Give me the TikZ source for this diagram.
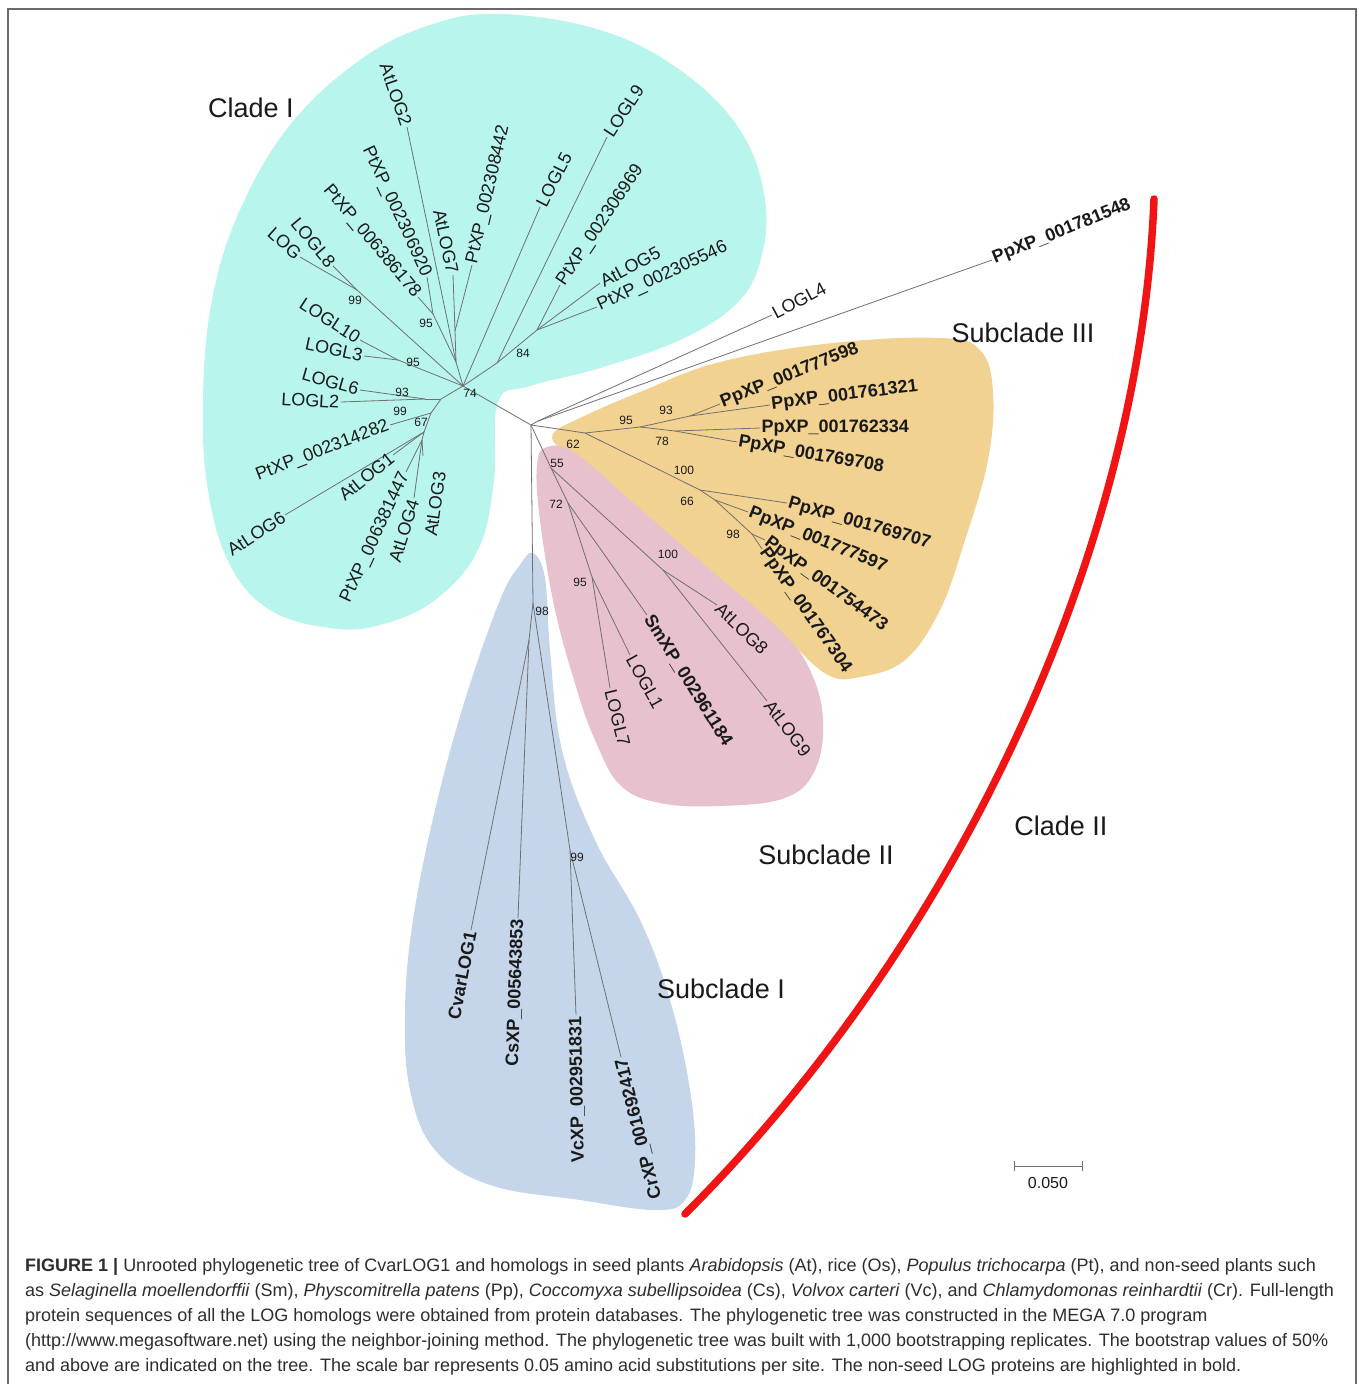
\documentclass[tikz,border=0pt]{standalone}
\usepackage{fontspec}
\setmainfont{Liberation Sans}
\definecolor{cyanf}{HTML}{B8F5EC}
\definecolor{orangef}{HTML}{F2D291}
\definecolor{pinkf}{HTML}{E8C1CE}
\definecolor{bluef}{HTML}{C5D6EB}
\definecolor{redc}{HTML}{F01414}
\definecolor{treec}{HTML}{707070}
\definecolor{txt}{HTML}{1A1A1A}
\definecolor{capc}{HTML}{2E2E2E}
\definecolor{framec}{HTML}{6A6A6A}
\begin{document}
\begin{tikzpicture}[x=1pt,y=-1pt,
  br/.style={draw=treec, line width=0.8pt},
  lab/.style={font=\fontsize{18}{20}\selectfont, text=txt, inner sep=1.5pt},
  blab/.style={lab, font=\fontsize{18}{20}\selectfont\bfseries},
  bs/.style={font=\fontsize{12}{13}\selectfont, text=txt, inner sep=0pt},
  cl/.style={font=\fontsize{27}{30}\selectfont, text=txt, inner sep=0pt},
  captext/.style={font=\fontsize{18}{20}\selectfont, text=capc, anchor=west, inner sep=0pt}]
\useasboundingbox (0,0) rectangle (1358,1384);
\fill[white] (0,0) rectangle (1358,1384);
% frame
\draw[framec, line width=2pt] (8,1384) -- (8,9) -- (1356,9) -- (1356,1384);

% blobs
\fill[cyanf] plot[smooth cycle, tension=0.65] coordinates {
 (500,14) (600,30) (680,70) (740,130) (765,200) (760,262) (735,305) (680,340)
 (600,368) (530,386) (498,402) (494,480) (478,550) (435,600) (380,625) (330,628)
 (270,610) (230,565) (208,490) (203,400) (212,300) (240,210) (290,125) (360,60) (430,25)};
\fill[orangef] plot[smooth cycle, tension=0.65] coordinates {
 (553,434) (580,418) (640,392) (720,362) (833,343) (940,338) (980,350) (993,392)
 (988,460) (965,540) (940,610) (905,660) (860,677) (828,675) (790,642) (730,587)
 (667,537) (600,477) (562,450)};
\fill[pinkf] plot[smooth cycle, tension=0.65] coordinates {
 (547,447) (575,453) (630,500) (707,567) (780,630) (810,670) (823,720) (815,770)
 (785,798) (720,806) (660,803) (620,785) (595,740) (577,690) (555,610) (540,520) (537,465)};
\fill[bluef] plot[smooth cycle, tension=0.65] coordinates {
 (533,553) (545,578) (550,650) (562,750) (595,840) (640,920) (670,1000) (690,1090)
 (695,1160) (685,1200) (655,1210) (580,1200) (490,1185) (435,1150) (410,1090)
 (405,1010) (413,920) (435,810) (465,700) (500,600) (520,565)};

% red arc
\coordinate (ra) at (1154,199);
\coordinate (rb) at (685,1214);
\draw[redc, line width=7.5pt, line cap=round] (ra) .. controls (1140,560) and (950,950) .. (rb);

% internal nodes
\coordinate (R) at (531,425);
\coordinate (N74) at (463,386);
\coordinate (Nup1) at (456,362);
\coordinate (Nup2) at (455,331);
\coordinate (N95a) at (433,314);
\coordinate (N99a) at (357,290);
\coordinate (N95b) at (398,360);
\coordinate (N84) at (497,363);
\coordinate (N84b) at (537,330);
\coordinate (Nl1) at (441,399);
\coordinate (N93) at (425,399);
\coordinate (Nl2) at (431,413);
\coordinate (N67) at (424,432);
\coordinate (N67b) at (422,440);
\coordinate (Na) at (538,421);
\coordinate (N62) at (585,433);
\coordinate (N95o) at (640,427);
\coordinate (N93o) at (690,416);
\coordinate (N78) at (675,431);
\coordinate (N100o) at (700,490);
\coordinate (N66) at (715,500);
\coordinate (N98o) at (752,534);
\coordinate (N55) at (551,468);
\coordinate (N100p) at (663,570);
\coordinate (N72) at (568,503);
\coordinate (N95p) at (592,577);
\coordinate (N98b) at (533,603);
\coordinate (Nb1) at (529,640);
\coordinate (N99b) at (570,850);

% leaves
\coordinate (lAtLOG2) at (407,127);
\coordinate (lPt920) at (427,277);
\coordinate (lPt178) at (418,297);
\coordinate (lLOGL8) at (333,266);
\coordinate (lLOG) at (300,257);
\coordinate (lAtLOG7) at (453,275);
\coordinate (lPt442) at (472,265);
\coordinate (lLOGL5) at (540,207);
\coordinate (lLOGL9) at (607,137);
\coordinate (lPt969) at (560,285);
\coordinate (lAtLOG5) at (600,283);
\coordinate (lPt546) at (597,307);
\coordinate (lLOGL10) at (360,340);
\coordinate (lLOGL3) at (364,356);
\coordinate (lLOGL6) at (360,390);
\coordinate (lLOGL2) at (341,402);
\coordinate (lPt282) at (390,425);
\coordinate (lAtLOG6) at (285,515);
\coordinate (lAtLOG1) at (393,455);
\coordinate (lPt447) at (406,472);
\coordinate (lAtLOG4) at (414,498);
\coordinate (lAtLOG3) at (423,456);
\coordinate (lLOGL4) at (772,315);
\coordinate (lPp548) at (992,260);
\coordinate (lPp598) at (720,404);
\coordinate (lPp321) at (770,405);
\coordinate (lPp334) at (760,428);
\coordinate (lPp708) at (737,442);
\coordinate (lPp707) at (787,503);
\coordinate (lPp597) at (748,512);
\coordinate (lPp473) at (765,540);
\coordinate (lPp304) at (762,549);
\coordinate (lAtLOG8) at (717,605);
\coordinate (lAtLOG9) at (767,701);
\coordinate (lSm) at (647,615);
\coordinate (lLOGL1) at (630,655);
\coordinate (lLOGL7) at (610,688);
\coordinate (lCvar) at (471,930);
\coordinate (lCs) at (518,918);
\coordinate (lVc) at (576,1015);
\coordinate (lCr) at (621,1057);

% branches
\foreach \a/\b in {R/N74, N74/Nup1, Nup1/lAtLOG2, Nup1/Nup2, Nup2/lAtLOG7, Nup2/lPt442,
  Nup1/N95a, N95a/lPt920, N95a/lPt178, N74/N99a, N99a/lLOGL8, N99a/lLOG,
  N74/N95b, N95b/lLOGL10, N95b/lLOGL3, N74/lLOGL5, N74/N84, N84/lLOGL9, N84/N84b,
  N84b/lPt969, N84b/lAtLOG5, N84b/lPt546, N74/Nl1, Nl1/N93, N93/lLOGL6, N93/lLOGL2,
  Nl1/Nl2, Nl2/lPt282, Nl2/N67, N67/lAtLOG6, N67/lAtLOG1, N67/N67b, N67b/lPt447,
  N67b/lAtLOG4, N67b/lAtLOG3,
  R/Na, Na/lLOGL4, Na/lPp548, R/N62, N62/N95o, N95o/N93o, N93o/lPp598, N93o/lPp321,
  N95o/N78, N78/lPp334, N78/lPp708, N62/N100o, N100o/lPp707, N100o/N66, N66/lPp597,
  N66/N98o, N98o/lPp473, N98o/lPp304,
  R/N55, N55/N100p, N100p/lAtLOG8, N100p/lAtLOG9, N55/N72, N72/lSm, N72/N95p,
  N95p/lLOGL1, N95p/lLOGL7,
  R/N98b, N98b/Nb1, Nb1/lCvar, Nb1/lCs, N98b/N99b, N99b/lVc, N99b/lCr}
  \draw[br] (\a) -- (\b);

% labels: clade I
\node[lab, anchor=east, rotate=-71] (tAtLOG2) at (lAtLOG2) {AtLOG2};
\node[lab, anchor=east, rotate=-65] (tPt920) at (lPt920) {PtXP\_002306920};
\node[lab, anchor=east, rotate=-50] (tPt178) at (lPt178) {PtXP\_006386178};
\node[lab, anchor=east, rotate=-50] (tLOGL8) at (lLOGL8) {LOGL8};
\node[lab, anchor=east, rotate=-42] (tLOG) at (lLOG) {LOG};
\node[lab, anchor=east, rotate=-78] (tAtLOG7) at (lAtLOG7) {AtLOG7};
\node[lab, anchor=west, rotate=77] (tPt442) at (lPt442) {PtXP\_002308442};
\node[lab, anchor=west, rotate=63] (tLOGL5) at (lLOGL5) {LOGL5};
\node[lab, anchor=west, rotate=57] (tLOGL9) at (lLOGL9) {LOGL9};
\node[lab, anchor=west, rotate=56] (tPt969) at (lPt969) {PtXP\_002306969};
\node[lab, anchor=west, rotate=28] (tAtLOG5) at (lAtLOG5) {AtLOG5};
\node[lab, anchor=west, rotate=25] (tPt546) at (lPt546) {PtXP\_002305546};
\node[lab, anchor=east, rotate=-33] (tLOGL10) at (lLOGL10) {LOGL10};
\node[lab, anchor=east, rotate=-12] (tLOGL3) at (lLOGL3) {LOGL3};
\node[lab, anchor=east, rotate=-16] (tLOGL6) at (lLOGL6) {LOGL6};
\node[lab, anchor=east, rotate=-3] (tLOGL2) at (lLOGL2) {LOGL2};
\node[lab, anchor=east, rotate=21] (tPt282) at (lPt282) {PtXP\_002314282};
\node[lab, anchor=east, rotate=33] (tAtLOG6) at (lAtLOG6) {AtLOG6};
\node[lab, anchor=east, rotate=39] (tAtLOG1) at (lAtLOG1) {AtLOG1};
\node[lab, anchor=east, rotate=65] (tPt447) at (lPt447) {PtXP\_006381447};
\node[lab, anchor=east, rotate=73] (tAtLOG4) at (lAtLOG4) {AtLOG4};
\node[lab, anchor=east, rotate=82] (tAtLOG3) at (440,470) {AtLOG3};

% labels: clade II
\node[lab, anchor=west, rotate=28] (tLOGL4) at (lLOGL4) {LOGL4};
\node[blab, anchor=west, rotate=22] (tPp548) at (lPp548) {PpXP\_001781548};
\node[blab, anchor=west, rotate=22] (tPp598) at (lPp598) {PpXP\_001777598};
\node[blab, anchor=west, rotate=7] (tPp321) at (lPp321) {PpXP\_001761321};
\node[blab, anchor=west, rotate=0] (tPp334) at (lPp334) {PpXP\_001762334};
\node[blab, anchor=west, rotate=-10] (tPp708) at (lPp708) {PpXP\_001769708};
\node[blab, anchor=west, rotate=-16] (tPp707) at (lPp707) {PpXP\_001769707};
\node[blab, anchor=west, rotate=-22] (tPp597) at (lPp597) {PpXP\_001777597};
\node[blab, anchor=west, rotate=-36] (tPp473) at (lPp473) {PpXP\_001754473};
\node[blab, anchor=west, rotate=-55] (tPp304) at (lPp304) {PpXP\_001767304};
\node[lab, anchor=west, rotate=-44] (tAtLOG8) at (lAtLOG8) {AtLOG8};
\node[lab, anchor=west, rotate=-53] (tAtLOG9) at (lAtLOG9) {AtLOG9};
\node[blab, anchor=west, rotate=-58] (tSm) at (lSm) {SmXP\_002961184};
\node[lab, anchor=west, rotate=-61] (tLOGL1) at (lLOGL1) {LOGL1};
\node[lab, anchor=west, rotate=-76] (tLOGL7) at (lLOGL7) {LOGL7};
\node[blab, anchor=east, rotate=79] (tCvar) at (lCvar) {CvarLOG1};
\node[blab, anchor=east, rotate=88] (tCs) at (lCs) {CsXP\_005643853};
\node[blab, anchor=east, rotate=91] (tVc) at (lVc) {VcXP\_002951831};
\node[blab, anchor=east, rotate=104] (tCr) at (lCr) {CrXP\_001692417};

% bootstrap values
\node[bs] (b1) at (355,300) {99};
\node[bs] (b2) at (426,323) {95};
\node[bs] (b3) at (413,362) {95};
\node[bs] (b4) at (402,392) {93};
\node[bs] (b5) at (400,411) {99};
\node[bs] (b6) at (421,422) {67};
\node[bs] (b7) at (470,393) {74};
\node[bs] (b8) at (523,353) {84};
\node[bs] (b9) at (626,420) {95};
\node[bs] (b10) at (666,410) {93};
\node[bs] (b11) at (573,444) {62};
\node[bs] (b12) at (662,441) {78};
\node[bs] (b13) at (684,470) {100};
\node[bs] (b14) at (687,501) {66};
\node[bs] (b15) at (733,534) {98};
\node[bs] (b16) at (557,463) {55};
\node[bs] (b17) at (556,504) {72};
\node[bs] (b18) at (668,554) {100};
\node[bs] (b19) at (580,582) {95};
\node[bs] (b20) at (542,611) {98};
\node[bs] (b21) at (577,857) {99};

% clade names
\node[cl] (cI) at (251,108) {Clade I};
\node[cl] (sIII) at (1023,333) {Subclade III};
\node[cl] (sII) at (826,855) {Subclade II};
\node[cl] (cII) at (1061,826) {Clade II};
\node[cl] (sI) at (721,989) {Subclade I};

% scale bar
\coordinate (sb1) at (1014,1166);
\coordinate (sb2) at (1082,1166);
\draw[treec, line width=1pt] (sb1) -- (sb2);
\draw[treec, line width=1pt] ([yshift=-5pt]sb1) -- ([yshift=5pt]sb1);
\draw[treec, line width=1pt] ([yshift=-5pt]sb2) -- ([yshift=5pt]sb2);
\node[font=\fontsize{16}{18}\selectfont, text=txt, inner sep=0pt] (sbt) at (1048,1183) {0.050};

% caption
\node[captext] (c1) at (25,1267) {\textbf{FIGURE 1 |} Unrooted phylogenetic tree of CvarLOG1 and homologs in seed plants \textit{Arabidopsis} (At), rice (Os), \textit{Populus trichocarpa} (Pt), and non-seed plants such};
\node[captext] (c2) at (25,1292) {as \textit{Selaginella moellendorffii} (Sm), \textit{Physcomitrella patens} (Pp), \textit{Coccomyxa subellipsoidea} (Cs), \textit{Volvox carteri} (Vc), and \textit{Chlamydomonas reinhardtii} (Cr). Full-length};
\node[captext] (c3) at (25,1317) {protein sequences of all the LOG homologs were obtained from protein databases. The phylogenetic tree was constructed in the MEGA 7.0 program};
\node[captext] (c4) at (25,1342) {(http://www.megasoftware.net) using the neighbor-joining method. The phylogenetic tree was built with 1,000 bootstrapping replicates. The bootstrap values of 50\%};
\node[captext] (c5) at (25,1367) {and above are indicated on the tree. The scale bar represents 0.05 amino acid substitutions per site. The non-seed LOG proteins are highlighted in bold.};
\end{tikzpicture}
\end{document}
